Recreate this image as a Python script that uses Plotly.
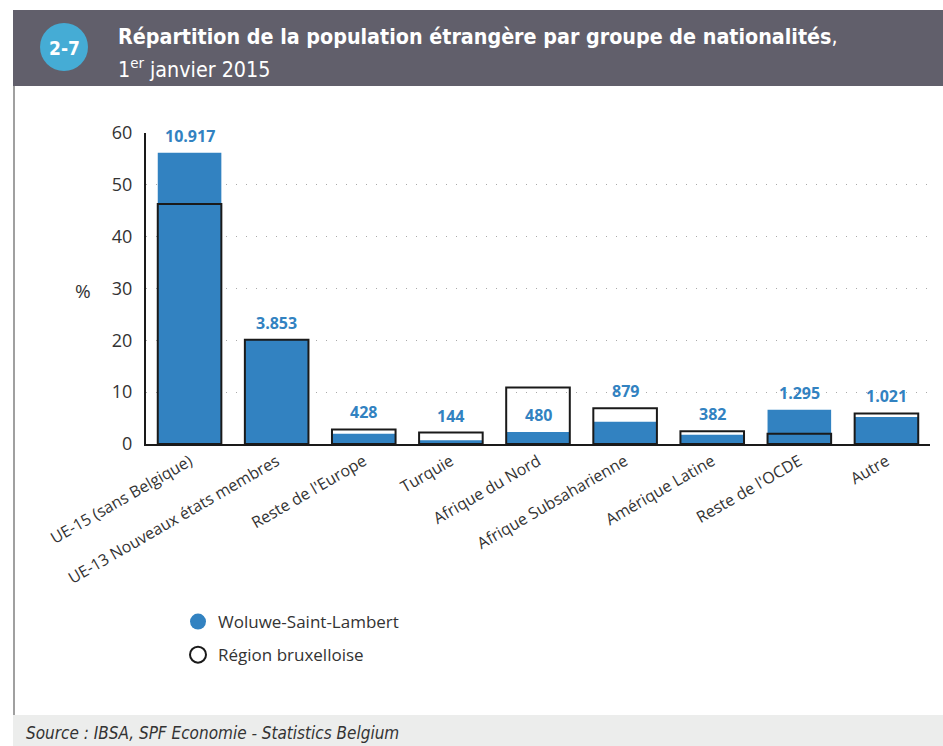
import plotly.graph_objects as go

categories = ["UE-15 (sans Belgique)", "UE-13 Nouveaux états membres", "Reste de l'Europe",
              "Turquie", "Afrique du Nord", "Afrique Subsaharienne", "Amérique Latine",
              "Reste de l'OCDE", "Autre"]
woluwe_pct = [56.2, 20.1, 2.0, 0.7, 2.3, 4.3, 1.8, 6.6, 5.2]
region_pct = [46.3, 20.1, 2.8, 2.2, 10.9, 6.9, 2.45, 2.0, 5.9]
woluwe_count = ["10.917", "3.853", "428", "144", "480", "879", "382", "1.295", "1.021"]
y_ticks = [0, 10, 20, 30, 40, 50, 60]

BLUE = "#3282c1"
COND = "DejaVu Sans Condensed, Roboto, sans-serif"
W, H = 943, 746
L, R, T, B = 146, 13, 133, 302
PW, PH = W - L - R, H - T - B

def px(x):
    return (x - L) / PW

def py(y):
    return (H - B - y) / PH

fig = go.Figure()
fig.add_trace(go.Bar(x=categories, y=woluwe_pct, name="Woluwe-Saint-Lambert",
                     marker=dict(color=BLUE, line=dict(width=0)), showlegend=False,
                     hoverinfo="skip"))
fig.add_trace(go.Bar(x=categories, y=region_pct, name="Région bruxelloise",
                     marker=dict(color="rgba(0,0,0,0)", line=dict(color="#1a1a1a", width=2)),
                     showlegend=False, hoverinfo="skip"))
# legend entries
fig.add_trace(go.Scatter(x=[None], y=[None], mode="markers", name="Woluwe-Saint-Lambert",
                         legendgroup="a",
                         marker=dict(symbol="circle", size=18, color=BLUE)))
fig.add_trace(go.Scatter(x=[None], y=[None], mode="markers", name="Région bruxelloise",
                         legendgroup="b",
                         marker=dict(symbol="circle-open", size=18, color="#1a1a1a",
                                     line=dict(width=2))))

annotations = []
for c, w, r, t in zip(categories, woluwe_pct, region_pct, woluwe_count):
    anchor = max(w, r) if r - w < 5 else w
    annotations.append(dict(x=c, y=anchor, xref="x", yref="y", text="<b>%s</b>" % t,
                            showarrow=False, yanchor="middle", yshift=17,
                            font=dict(size=16, color=BLUE, family="Open Sans")))

def note(x, y, text, size, color, family, xanchor="center"):
    return dict(x=px(x), y=py(y), xref="paper", yref="paper", text=text, showarrow=False,
                xanchor=xanchor, yanchor="middle",
                font=dict(size=size, color=color, family=family))

annotations.append(note(83, 291, "%", 19, "#333", "Open Sans"))
annotations.append(note(64, 48, "<b>2-7</b>", 19, "white", COND))
annotations.append(note(116, 36,
                        "<b>Répartition de la population étrangère par groupe de nationalités</b>,",
                        21.3, "white", COND, "left"))
annotations.append(note(116, 68, "1<sup>er</sup> janvier 2015", 21.3, "white", COND, "left"))
annotations.append(note(24, 733, "<i>Source : IBSA, SPF Economie - Statistics Belgium</i>",
                        17, "#333", COND, "left"))

shapes = [
    dict(type="rect", xref="paper", yref="paper", x0=px(13), x1=px(943), y0=py(10), y1=py(86),
         fillcolor="#615f6b", line=dict(width=0), layer="below"),
    dict(type="circle", xref="paper", yref="paper", x0=px(40), x1=px(88), y0=py(23), y1=py(71),
         fillcolor="#45acd5", line=dict(width=0), layer="above"),
    dict(type="rect", xref="paper", yref="paper", x0=px(13), x1=px(943), y0=py(715), y1=py(746),
         fillcolor="#ecedec", line=dict(width=0), layer="below"),
    dict(type="line", xref="paper", yref="paper", x0=px(14), x1=px(14), y0=py(86), y1=py(715),
         line=dict(color="#a0a0a0", width=2)),
]

fig.update_layout(
    width=W, height=H,
    margin=dict(l=L, r=R, t=T, b=B, autoexpand=False),
    paper_bgcolor="white", plot_bgcolor="white",
    barmode="overlay", bargap=0.27,
    font=dict(family="Open Sans", size=16, color="#333"),
    xaxis=dict(tickangle=-30, showline=True, linecolor="#1a1a1a", linewidth=2,
               ticks="", showgrid=False, tickfont=dict(size=16, color="#333")),
    yaxis=dict(range=[0, 60], tickvals=y_ticks, showline=True, linecolor="#1a1a1a", linewidth=2,
               showgrid=True, gridcolor="#aaaaaa", gridwidth=1, griddash="1px,9px",
               zeroline=False, ticks="", ticklabelstandoff=8,
               tickfont=dict(size=18, color="#333")),
    legend=dict(x=px(178), y=py(604), xanchor="left", yanchor="top",
                font=dict(size=17, color="#333"), itemsizing="trace",
                tracegroupgap=8, bgcolor="rgba(0,0,0,0)"),
    annotations=annotations, shapes=shapes,
)

fig.write_html("out.html", config={"displayModeBar": False},
               post_script="document.body.style.margin='0';")
